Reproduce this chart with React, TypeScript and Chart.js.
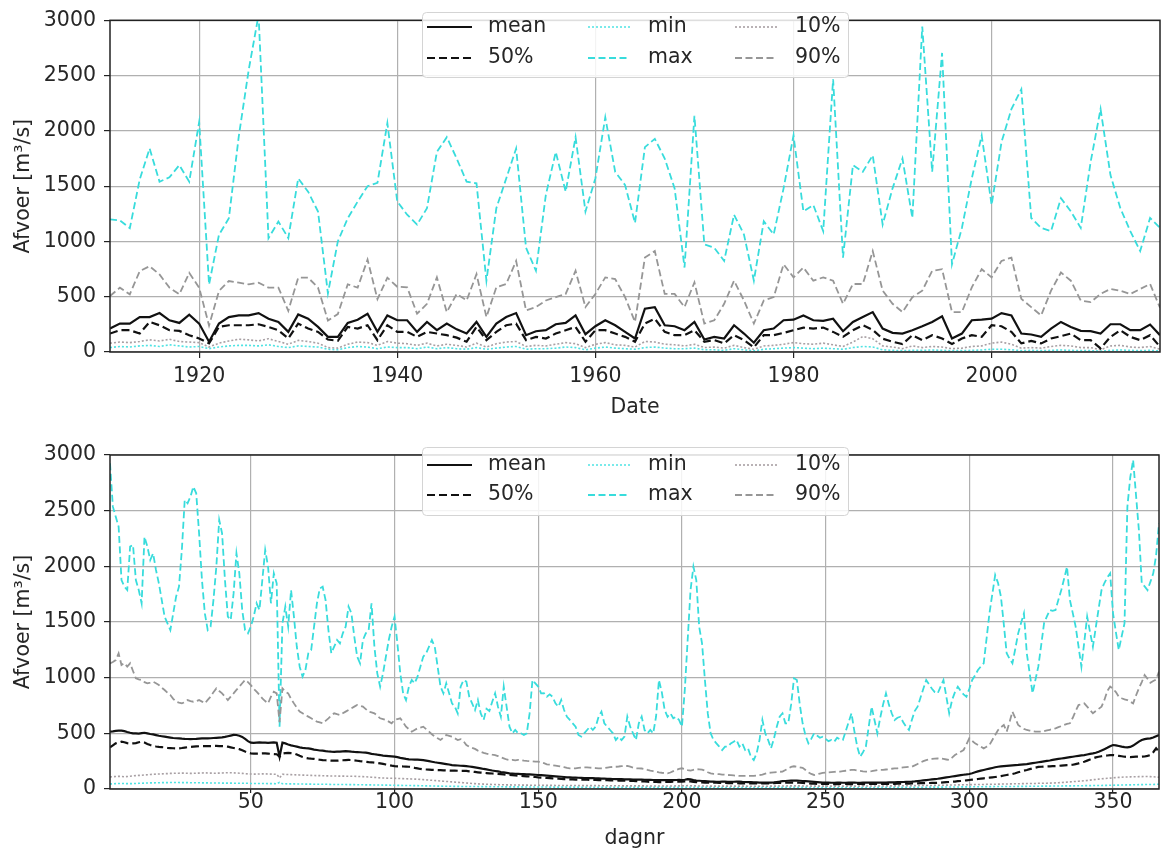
import React, { useEffect, useRef } from 'react';
import { Chart, registerables } from 'chart.js';

Chart.register(...registerables);

// ---------- categories / ticks ----------
const FIRST_YEAR = 1911;
const years: number[] = Array.from({ length: 107 }, (_, i) => FIRST_YEAR + i);
const days: number[] = Array.from({ length: 366 }, (_, i) => i + 1);
const yearTicks = [1920, 1940, 1960, 1980, 2000];
const dayTicks = [50, 100, 150, 200, 250, 300, 350];
const valueTicks = [0, 500, 1000, 1500, 2000, 2500, 3000];
const legendLabels = ['mean', '50%', 'min', 'max', '10%', '90%'];

// ---------- yearly series (1911-2017) ----------
const yearMean = [
  212, 257, 257, 316, 316, 352, 287, 263, 337, 257,
  93, 257, 316, 331, 331, 352, 301, 272, 182, 340,
  301, 227, 137, 137, 263, 292, 346, 182, 331, 287,
  287, 182, 272, 197, 257, 205, 167, 272, 137, 257,
  316, 352, 152, 188, 197, 251, 263, 331, 161, 233,
  287, 242, 182, 122, 391, 406, 242, 233, 197, 272,
  113, 137, 122, 242, 167, 84, 197, 212, 287, 292,
  331, 287, 281, 301, 188, 272, 316, 361, 212, 173,
  167, 197, 233, 272, 322, 122, 167, 287, 292, 301,
  352, 331, 167, 158, 137, 212, 272, 227, 191, 188,
  167, 251, 251, 197, 197, 248, 152,
];
const yearP50 = [
  167, 197, 197, 167, 272, 242, 197, 191, 152, 122,
  78, 227, 242, 242, 242, 251, 227, 197, 122, 257,
  212, 182, 113, 101, 227, 212, 242, 107, 242, 182,
  182, 137, 182, 167, 152, 130, 93, 227, 107, 182,
  242, 257, 107, 137, 122, 167, 197, 227, 93, 197,
  197, 167, 137, 93, 257, 301, 182, 152, 152, 197,
  93, 107, 78, 152, 107, 42, 152, 152, 173, 197,
  221, 212, 221, 182, 137, 197, 242, 200, 120, 93,
  72, 152, 107, 152, 122, 72, 122, 152, 137, 242,
  233, 182, 78, 101, 78, 122, 143, 167, 107, 107,
  33, 137, 197, 137, 107, 152, 48,
];
const yearMin = [
  40, 50, 45, 55, 60, 50, 65, 55, 45, 50,
  30, 45, 55, 60, 60, 55, 65, 50, 40, 55,
  50, 45, 25, 20, 40, 50, 45, 30, 45, 40,
  40, 30, 45, 30, 40, 30, 25, 40, 25, 35,
  45, 50, 25, 30, 30, 35, 45, 40, 20, 35,
  45, 35, 30, 25, 40, 45, 35, 30, 30, 35,
  20, 20, 15, 30, 20, 10, 25, 30, 35, 40,
  35, 30, 35, 30, 25, 40, 50, 45, 20, 15,
  12, 15, 15, 18, 15, 12, 12, 15, 18, 25,
  25, 20, 12, 15, 12, 15, 18, 15, 12, 12,
  8, 15, 18, 15, 12, 15, 10,
];
const yearMax = [
  1200, 1190, 1120, 1560, 1840, 1540, 1580, 1690, 1540, 2080,
  610, 1060, 1210, 1950, 2550, 3050, 1030, 1180, 1030, 1570,
  1450, 1270, 530, 1000, 1210, 1360, 1500, 1530, 2070, 1361,
  1242, 1152, 1300, 1809, 1943, 1750, 1540, 1525, 645, 1300,
  1570, 1840, 943, 735, 1420, 1809, 1450, 1943, 1270, 1570,
  2122, 1630, 1510, 1167, 1853, 1928, 1750, 1480, 764, 2137,
  973, 943, 824, 1242, 1063, 645, 1182, 1063, 1480, 1958,
  1272, 1330, 1093, 2466, 854, 1690, 1630, 1779, 1152, 1480,
  1750, 1212, 2943, 1630, 2705, 794, 1122, 1570, 1958, 1330,
  1898, 2197, 2376, 1212, 1122, 1093, 1391, 1272, 1122, 1720,
  2197, 1600, 1300, 1093, 913, 1212, 1122,
];
const yearP10 = [
  80, 90, 85, 95, 110, 100, 115, 95, 90, 85,
  45, 80, 100, 115, 110, 100, 120, 95, 70, 105,
  95, 80, 40, 35, 70, 90, 85, 60, 95, 80,
  75, 60, 80, 55, 70, 60, 45, 80, 45, 75,
  90, 95, 50, 60, 55, 70, 85, 75, 40, 70,
  85, 65, 60, 45, 95, 90, 70, 65, 55, 70,
  40, 45, 35, 60, 40, 25, 55, 60, 70, 85,
  75, 70, 80, 65, 50, 90, 140, 120, 55, 45,
  30, 55, 40, 50, 45, 30, 35, 50, 55, 80,
  90, 70, 35, 40, 35, 50, 60, 55, 40, 40,
  20, 55, 60, 45, 40, 50, 25,
];
const yearP90 = [
  507, 582, 522, 731, 776, 701, 582, 522, 716, 582,
  239, 552, 642, 627, 612, 627, 582, 582, 373, 672,
  672, 582, 284, 343, 612, 582, 836, 478, 672, 590,
  585, 346, 436, 675, 361, 525, 466, 704, 316, 585,
  615, 824, 376, 406, 466, 496, 525, 734, 406, 525,
  675, 660, 496, 272, 854, 913, 525, 525, 406, 630,
  257, 287, 436, 645, 466, 257, 466, 496, 794, 675,
  764, 645, 675, 645, 436, 615, 615, 913, 555, 436,
  361, 496, 555, 734, 749, 361, 361, 585, 749, 675,
  824, 854, 481, 406, 331, 555, 719, 645, 466, 451,
  525, 570, 555, 525, 570, 615, 400,
];

// ---------- daily series (day 1-366) ----------
const dayMean = [
  515, 518, 522, 524, 524, 520, 512, 505, 500, 500,
  498, 502, 505, 500, 494, 490, 484, 478, 474, 470,
  466, 462, 458, 456, 455, 452, 450, 449, 448, 449,
  450, 452, 454, 455, 455, 456, 458, 460, 462, 464,
  468, 474, 480, 486, 485, 478, 468, 450, 430, 416,
  414, 416, 418, 417, 416, 415, 417, 418, 416, 290,
  416, 410, 400, 392, 386, 380, 374, 370, 367, 365,
  360, 354, 350, 346, 344, 340, 337, 335, 334, 335,
  336, 338, 340, 338, 335, 333, 332, 330, 328, 326,
  322, 316, 312, 308, 305, 300, 298, 296, 293, 290,
  286, 280, 275, 270, 266, 265, 264, 263, 262, 260,
  255, 250, 245, 240, 236, 232, 228, 224, 220, 215,
  213, 211, 209, 208, 206, 202, 198, 194, 190, 185,
  180, 176, 171, 166, 162, 158, 153, 149, 145, 141,
  139, 137, 136, 134, 133, 132, 131, 130, 128, 126,
  124, 122, 120, 118, 116, 114, 112, 110, 108, 105,
  104, 103, 102, 101, 100, 99, 98, 97, 97, 96,
  95, 94, 93, 92, 91, 90, 89, 88, 88, 87,
  86, 86, 85, 85, 84, 84, 83, 82, 82, 81,
  81, 80, 80, 80, 79, 79, 80, 81, 82, 81,
  83, 88, 86, 80, 76, 74, 72, 70, 68, 66,
  66, 65, 65, 66, 66, 65, 64, 65, 66, 66,
  64, 63, 62, 61, 60, 59, 58, 58, 57, 57,
  58, 60, 63, 66, 70, 72, 74, 75, 76, 75,
  74, 72, 70, 68, 66, 64, 62, 60, 58, 57,
  57, 56, 56, 57, 57, 56, 56, 57, 57, 57,
  56, 56, 57, 58, 58, 57, 57, 58, 57, 57,
  58, 59, 60, 60, 61, 62, 63, 64, 65, 66,
  68, 71, 74, 77, 80, 83, 86, 89, 92, 96,
  100, 104, 108, 112, 116, 120, 124, 128, 131, 135,
  142, 150, 158, 165, 171, 177, 183, 189, 195, 200,
  203, 206, 208, 210, 212, 214, 216, 219, 222, 224,
  228, 232, 236, 240, 244, 248, 252, 256, 261, 266,
  270, 274, 278, 282, 286, 290, 294, 298, 302, 305,
  310, 315, 320, 326, 335, 346, 358, 370, 384, 395,
  392, 386, 380, 376, 374, 378, 390, 408, 426, 440,
  448, 452, 455, 462, 474, 485,
];
const dayP50 = [
  374, 392, 410, 418, 425, 420, 412, 408, 410, 412,
  420, 425, 418, 405, 395, 388, 382, 378, 376, 374,
  370, 368, 366, 365, 365, 368, 372, 376, 378, 380,
  382, 384, 386, 386, 386, 385, 386, 387, 386, 386,
  384, 380, 374, 368, 365, 358, 348, 336, 326, 320,
  318, 318, 319, 320, 320, 318, 316, 314, 312, 290,
  318, 322, 324, 322, 320, 310, 298, 288, 280, 275,
  272, 270, 266, 263, 260, 258, 256, 255, 254, 254,
  256, 258, 260, 261, 260, 257, 254, 250, 247, 245,
  242, 240, 237, 234, 230, 225, 220, 215, 210, 206,
  204, 203, 202, 201, 200, 196, 190, 185, 180, 176,
  175, 174, 172, 171, 170, 169, 168, 167, 166, 165,
  165, 164, 163, 163, 162, 159, 156, 153, 150, 147,
  145, 143, 141, 139, 137, 135, 133, 131, 128, 126,
  124, 122, 120, 118, 116, 114, 112, 110, 108, 105,
  103, 101, 99, 97, 95, 93, 92, 90, 89, 87,
  86, 86, 85, 85, 84, 84, 83, 82, 82, 81,
  80, 80, 79, 79, 78, 78, 77, 76, 76, 75,
  74, 73, 72, 71, 70, 69, 68, 66, 64, 63,
  63, 62, 62, 63, 63, 64, 65, 66, 66, 66,
  68, 70, 68, 64, 62, 60, 59, 58, 58, 57,
  56, 56, 55, 55, 54, 53, 53, 52, 52, 51,
  51, 51, 50, 50, 51, 51, 50, 50, 51, 51,
  52, 53, 54, 55, 56, 57, 58, 58, 57, 57,
  56, 54, 52, 50, 48, 47, 46, 46, 45, 45,
  45, 45, 44, 44, 45, 45, 45, 44, 44, 45,
  45, 45, 44, 44, 45, 45, 46, 45, 45, 45,
  45, 46, 46, 46, 47, 47, 48, 48, 49, 50,
  50, 51, 52, 52, 53, 54, 55, 55, 56, 57,
  59, 61, 63, 65, 67, 70, 72, 75, 78, 81,
  84, 87, 90, 93, 96, 99, 102, 105, 108, 111,
  116, 121, 126, 130, 135, 142, 150, 158, 165, 171,
  178, 185, 192, 198, 200, 202, 203, 204, 205, 206,
  208, 210, 212, 214, 215, 218, 224, 230, 238, 245,
  255, 265, 275, 284, 290, 294, 298, 301, 304, 305,
  302, 298, 294, 290, 288, 286, 288, 290, 290, 290,
  292, 298, 305, 330, 365, 335,
];
const dayMin = [
  45, 46, 48, 50, 50, 49, 48, 48, 49, 50,
  51, 52, 53, 54, 55, 55, 56, 56, 57, 57,
  57, 58, 58, 58, 58, 57, 57, 57, 56, 56,
  56, 56, 55, 55, 55, 54, 54, 54, 54, 53,
  53, 53, 53, 52, 52, 52, 51, 51, 51, 50,
  50, 50, 49, 49, 49, 48, 48, 48, 47, 60,
  47, 47, 46, 46, 46, 45, 45, 45, 44, 44,
  44, 43, 43, 43, 42, 42, 42, 41, 41, 41,
  40, 40, 40, 39, 39, 39, 38, 38, 38, 37,
  37, 37, 36, 36, 36, 35, 35, 35, 34, 34,
  33, 33, 32, 32, 31, 31, 30, 30, 29, 29,
  28, 28, 27, 27, 26, 26, 25, 25, 25, 24,
  24, 24, 23, 23, 23, 22, 22, 22, 22, 21,
  21, 21, 21, 20, 20, 20, 20, 20, 19, 19,
  19, 19, 19, 19, 18, 18, 18, 18, 18, 18,
  18, 18, 18, 17, 17, 17, 17, 17, 17, 17,
  17, 17, 17, 17, 16, 16, 16, 16, 16, 16,
  16, 16, 16, 16, 16, 16, 15, 15, 15, 15,
  15, 15, 15, 15, 15, 15, 15, 15, 15, 15,
  15, 15, 15, 15, 15, 15, 15, 15, 15, 15,
  15, 16, 16, 15, 15, 15, 15, 15, 15, 14,
  14, 14, 14, 14, 14, 14, 14, 14, 14, 14,
  14, 14, 14, 14, 14, 14, 14, 14, 14, 14,
  14, 14, 15, 15, 15, 15, 15, 15, 15, 15,
  15, 15, 15, 14, 14, 14, 14, 14, 14, 14,
  14, 14, 14, 14, 14, 14, 14, 14, 14, 14,
  14, 14, 14, 14, 14, 14, 14, 15, 15, 15,
  15, 15, 15, 15, 15, 15, 15, 15, 16, 16,
  16, 16, 16, 16, 16, 17, 17, 17, 17, 17,
  17, 18, 18, 18, 18, 18, 19, 19, 19, 19,
  20, 20, 20, 20, 21, 21, 21, 21, 22, 22,
  22, 22, 23, 23, 23, 23, 24, 24, 24, 24,
  25, 25, 25, 25, 26, 26, 26, 26, 27, 27,
  27, 27, 28, 28, 28, 28, 29, 29, 29, 30,
  30, 30, 31, 31, 32, 32, 33, 33, 34, 34,
  35, 35, 36, 36, 37, 37, 38, 38, 39, 39,
  40, 40, 41, 41, 42, 42,
];
const dayMax = [
  2925, 2536, 2446, 2356, 1877, 1817, 1787, 2177, 2192, 1877,
  1787, 1668, 2266, 2177, 2057, 2117, 1967, 1847, 1698, 1548,
  1488, 1428, 1578, 1728, 1817, 2147, 2596, 2566, 2626, 2716,
  2656, 2296, 1877, 1578, 1428, 1458, 1698, 1997, 2416, 2296,
  1877, 1548, 1518, 1757, 2117, 1937, 1608, 1428, 1398, 1458,
  1548, 1668, 1608, 1877, 2147, 1997, 1668, 1937, 1847, 560,
  1488, 1638, 1458, 1787, 1548, 1278, 1099, 1009, 1069, 1219,
  1248, 1458, 1668, 1802, 1817, 1698, 1428, 1219, 1278, 1338,
  1308, 1398, 1458, 1638, 1578, 1368, 1189, 1129, 1338, 1398,
  1428, 1668, 1278, 1039, 919, 1039, 1189, 1338, 1458, 1548,
  1308, 1039, 859, 799, 919, 979, 949, 1009, 1099, 1189,
  1219, 1278, 1338, 1278, 1099, 919, 859, 949, 859, 769,
  739, 679, 919, 979, 964, 829, 769, 709, 799, 679,
  620, 720, 700, 784, 859, 739, 649, 919, 739, 560,
  500, 530, 500, 500, 485, 500, 679, 979, 949, 920,
  859, 860, 829, 850, 829, 769, 739, 799, 709, 649,
  620, 590, 560, 485, 470, 500, 530, 560, 530, 560,
  649, 695, 590, 560, 530, 500, 440, 470, 440, 470,
  650, 560, 500, 440, 590, 650, 530, 500, 530, 500,
  649, 979, 870, 709, 649, 679, 635, 649, 620, 560,
  889, 1338, 1787, 1997, 1877, 1458, 1308, 979, 679, 500,
  440, 410, 380, 350, 380, 380, 410, 425, 440, 380,
  410, 350, 365, 290, 260, 320, 440, 620, 500, 440,
  365, 450, 560, 649, 680, 590, 590, 760, 994, 979,
  760, 590, 480, 410, 450, 500, 480, 460, 470, 450,
  430, 440, 425, 460, 445, 440, 520, 600, 680, 520,
  380, 290, 330, 380, 560, 739, 620, 500, 640, 760,
  859, 760, 680, 620, 640, 649, 600, 560, 530, 620,
  700, 739, 820, 900, 979, 940, 900, 870, 859, 920,
  979, 830, 680, 800, 870, 919, 880, 850, 829, 900,
  979, 1020, 1069, 1100, 1129, 1350, 1578, 1750, 1922, 1850,
  1727, 1480, 1219, 1170, 1129, 1260, 1398, 1490, 1578, 1219,
  1040, 859, 980, 1099, 1290, 1488, 1550, 1608, 1600, 1608,
  1700, 1787, 1890, 1997, 1698, 1580, 1458, 1280, 1099, 1320,
  1548, 1410, 1278, 1450, 1620, 1787, 1850, 1900, 1937, 1578,
  1410, 1248, 1370, 1488, 2536, 2800, 2955, 2640, 2326, 1847,
  1820, 1787, 1860, 1937, 2100, 2386,
];
const dayP10 = [
  108, 110, 112, 114, 112, 110, 112, 115, 118, 120,
  122, 124, 126, 128, 130, 132, 134, 135, 136, 138,
  138, 140, 141, 142, 142, 143, 142, 141, 140, 141,
  142, 143, 144, 145, 144, 143, 142, 142, 143, 144,
  145, 146, 146, 145, 144, 142, 140, 138, 136, 135,
  134, 134, 135, 136, 136, 135, 134, 133, 132, 100,
  132, 131, 130, 129, 128, 127, 126, 125, 124, 123,
  122, 121, 120, 120, 119, 118, 118, 117, 117, 116,
  116, 116, 115, 115, 114, 114, 113, 112, 111, 110,
  108, 106, 104, 102, 100, 99, 98, 97, 96, 96,
  95, 94, 93, 92, 91, 90, 89, 88, 86, 84,
  82, 80, 78, 76, 74, 72, 70, 68, 66, 64,
  62, 60, 58, 56, 54, 52, 50, 48, 46, 45,
  44, 43, 42, 41, 40, 39, 38, 38, 37, 37,
  36, 36, 36, 35, 35, 35, 34, 34, 34, 34,
  34, 33, 33, 33, 33, 32, 32, 32, 32, 31,
  31, 31, 31, 31, 30, 30, 30, 30, 30, 30,
  30, 29, 29, 29, 29, 29, 29, 29, 28, 28,
  28, 28, 28, 28, 28, 28, 28, 27, 27, 27,
  27, 27, 27, 27, 27, 27, 27, 28, 28, 28,
  29, 30, 29, 28, 28, 27, 27, 27, 27, 26,
  26, 26, 26, 26, 26, 26, 26, 26, 26, 26,
  26, 26, 25, 25, 25, 25, 25, 25, 25, 25,
  26, 26, 26, 27, 27, 27, 28, 28, 28, 28,
  28, 27, 27, 27, 26, 26, 26, 26, 26, 26,
  26, 26, 26, 26, 26, 26, 26, 26, 26, 26,
  26, 26, 27, 27, 27, 27, 27, 27, 27, 27,
  28, 28, 28, 28, 28, 29, 29, 29, 29, 30,
  30, 30, 31, 31, 31, 32, 32, 33, 33, 34,
  34, 35, 35, 36, 36, 37, 37, 38, 38, 39,
  39, 40, 40, 41, 41, 42, 42, 43, 43, 44,
  44, 45, 45, 46, 46, 47, 47, 48, 48, 49,
  49, 50, 50, 51, 51, 52, 52, 53, 54, 55,
  56, 58, 60, 62, 64, 66, 68, 70, 72, 74,
  77, 80, 83, 86, 89, 92, 94, 96, 98, 100,
  102, 104, 106, 108, 108, 109, 110, 110, 111, 111,
  112, 112, 111, 110, 108, 106,
];
const dayP90 = [
  1128, 1140, 1158, 1218, 1114, 1130, 1099, 1129, 1060, 994,
  985, 979, 960, 949, 955, 964, 950, 934, 910, 889,
  865, 844, 810, 784, 775, 769, 780, 799, 790, 784,
  790, 799, 785, 769, 800, 829, 870, 904, 880, 859,
  830, 799, 830, 859, 890, 919, 950, 979, 960, 934,
  900, 874, 845, 814, 790, 769, 829, 874, 859, 600,
  904, 874, 859, 810, 769, 730, 695, 680, 665, 650,
  635, 620, 605, 598, 590, 612, 635, 660, 680, 672,
  665, 680, 695, 710, 725, 740, 754, 748, 740, 718,
  695, 688, 680, 658, 635, 628, 620, 605, 590, 620,
  628, 635, 598, 560, 538, 515, 530, 545, 552, 560,
  538, 515, 492, 470, 455, 440, 462, 485, 478, 470,
  455, 440, 448, 430, 395, 380, 370, 360, 345, 335,
  325, 318, 312, 308, 305, 296, 285, 275, 265, 260,
  262, 258, 262, 260, 255, 252, 250, 248, 245, 245,
  240, 232, 222, 218, 214, 210, 206, 200, 196, 190,
  186, 186, 186, 190, 192, 195, 195, 192, 190, 188,
  186, 186, 188, 192, 196, 198, 200, 202, 205, 206,
  207, 200, 192, 186, 185, 184, 180, 172, 165, 160,
  156, 150, 146, 143, 141, 148, 160, 172, 180, 186,
  180, 170, 165, 172, 178, 177, 174, 165, 150, 140,
  136, 135, 133, 130, 128, 126, 124, 122, 120, 118,
  117, 117, 118, 117, 117, 120, 124, 130, 138, 145,
  147, 150, 152, 155, 156, 170, 185, 198, 204, 200,
  195, 190, 171, 150, 135, 126, 132, 138, 144, 147,
  150, 152, 154, 156, 156, 160, 164, 168, 171, 171,
  166, 162, 158, 156, 156, 160, 165, 170, 171, 171,
  175, 178, 182, 185, 186, 190, 194, 197, 200, 200,
  212, 225, 238, 250, 260, 265, 270, 272, 274, 275,
  270, 265, 260, 282, 305, 320, 335, 350, 400, 455,
  432, 410, 395, 380, 365, 380, 395, 440, 485, 530,
  555, 575, 515, 600, 695, 635, 575, 555, 540, 530,
  525, 520, 515, 515, 515, 520, 526, 532, 538, 545,
  555, 565, 575, 585, 590, 640, 700, 754, 762, 769,
  740, 710, 680, 700, 720, 740, 800, 880, 920, 900,
  870, 829, 815, 805, 799, 784, 769, 840, 904, 960,
  1024, 990, 954, 970, 984, 1054,
];

// ---------- styles ----------
const FONT = 'DejaVu Sans';
const FONT_SIZE = 20.5;
const TEXT_COLOR = '#262626';
const GRID_COLOR = '#b0b0b0';
const FRAME_COLOR = '#222222';

type StyleKey = 'mean' | 'p50' | 'min' | 'max' | 'p10' | 'p90';
const SERIES_STYLE: Record<StyleKey, { color: string; width: number; dash: number[] }> = {
  mean: { color: '#111111', width: 2.2, dash: [] },
  p50: { color: '#111111', width: 2.2, dash: [8, 4] },
  min: { color: '#4fe3e3', width: 1.6, dash: [2, 2] },
  max: { color: '#38dcdc', width: 1.8, dash: [7, 3.5] },
  p10: { color: '#a8a0a4', width: 1.6, dash: [2, 2] },
  p90: { color: '#969696', width: 1.8, dash: [7, 3.5] },
};
const LEGEND_KEYS: StyleKey[] = ['mean', 'p50', 'min', 'max', 'p10', 'p90'];
const DRAW_ORDER: StyleKey[] = ['mean', 'p50', 'p90', 'p10', 'max', 'min']; // first = on top
const LEGEND_COLS = [
  { h0: 427, h1: 472, tx: 488 },
  { h0: 588, h1: 630, tx: 648 },
  { h0: 735, h1: 777, tx: 795 },
];

type LegendBox = { x: number; y: number; w: number; h: number; row1: number; row2: number };

function makeLegendPlugin(box: LegendBox) {
  return {
    id: 'mplLegend',
    afterDraw(chart: any) {
      const ctx = chart.ctx as CanvasRenderingContext2D;
      ctx.save();
      ctx.beginPath();
      (ctx as any).roundRect(box.x + 0.5, box.y + 0.5, box.w, box.h, 4);
      ctx.fillStyle = 'rgba(255,255,255,0.85)';
      ctx.fill();
      ctx.strokeStyle = '#d4d4d4';
      ctx.lineWidth = 1;
      ctx.stroke();
      LEGEND_KEYS.forEach((key, i) => {
        const col = LEGEND_COLS[Math.floor(i / 2)];
        const y = i % 2 === 0 ? box.row1 : box.row2;
        const st = SERIES_STYLE[key];
        ctx.beginPath();
        ctx.setLineDash(st.dash);
        ctx.strokeStyle = st.color;
        ctx.lineWidth = st.width;
        ctx.moveTo(col.h0, y);
        ctx.lineTo(col.h1, y);
        ctx.stroke();
        ctx.setLineDash([]);
        ctx.fillStyle = TEXT_COLOR;
        ctx.font = `${FONT_SIZE}px "${FONT}"`;
        ctx.textBaseline = 'middle';
        ctx.textAlign = 'left';
        ctx.fillText(legendLabels[i], col.tx, y);
      });
      ctx.restore();
    },
  };
}

const framePlugin = {
  id: 'frame',
  afterDatasetsDraw(chart: any) {
    const { ctx, chartArea } = chart;
    ctx.save();
    ctx.strokeStyle = FRAME_COLOR;
    ctx.lineWidth = 1.5;
    ctx.strokeRect(chartArea.left, chartArea.top, chartArea.right - chartArea.left, chartArea.bottom - chartArea.top);
    ctx.restore();
  },
};

type Cfg = {
  xs: number[];
  series: Record<StyleKey, number[]>;
  xMin: number;
  xMax: number;
  xTicks: number[];
  xTitle: string;
  padding: { left: number; right: number; top: number; bottom: number };
  xAxisHeight: number;
  xTickLength: number;
  xTickPadding: number;
  legend: LegendBox;
};

function buildChart(canvas: HTMLCanvasElement, cfg: Cfg) {
  const font = { family: FONT, size: FONT_SIZE };
  return new Chart(canvas, {
    type: 'line',
    data: {
      datasets: DRAW_ORDER.map((key) => {
        const st = SERIES_STYLE[key];
        return {
          label: key,
          data: cfg.xs.map((x, i) => ({ x, y: cfg.series[key][i] })),
          borderColor: st.color,
          borderWidth: st.width,
          borderDash: st.dash,
          pointRadius: 0,
          tension: 0,
          fill: false,
        };
      }),
    },
    options: {
      animation: false,
      responsive: false,
      devicePixelRatio: 1,
      events: [],
      layout: { padding: cfg.padding },
      plugins: { legend: { display: false }, tooltip: { enabled: false } },
      scales: {
        x: {
          type: 'linear',
          min: cfg.xMin,
          max: cfg.xMax,
          afterBuildTicks: (s: any) => {
            s.ticks = cfg.xTicks.map((v) => ({ value: v }));
          },
          afterFit: (s: any) => {
            s.height = cfg.xAxisHeight;
          },
          grid: { color: GRID_COLOR, lineWidth: 1.2, drawTicks: true, tickLength: cfg.xTickLength, tickColor: FRAME_COLOR, tickWidth: 1.2 },
          border: { display: false },
          ticks: { font, color: TEXT_COLOR, padding: cfg.xTickPadding, maxRotation: 0, autoSkip: false, callback: (v: any) => String(v) },
          title: { display: true, text: cfg.xTitle, font, color: TEXT_COLOR, padding: 0 },
        },
        y: {
          type: 'linear',
          min: 0,
          max: 3000,
          afterBuildTicks: (s: any) => {
            s.ticks = valueTicks.map((v) => ({ value: v }));
          },
          afterFit: (s: any) => {
            s.width = 110 - cfg.padding.left;
          },
          grid: { color: GRID_COLOR, lineWidth: 1.2, drawTicks: true, tickLength: 6, tickColor: FRAME_COLOR, tickWidth: 1.2 },
          border: { display: false },
          ticks: { font, color: TEXT_COLOR, padding: 8, autoSkip: false, callback: (v: any) => String(v) },
          title: { display: true, text: 'Afvoer [m³/s]', font, color: TEXT_COLOR, padding: 0 },
        },
      },
    } as any,
    plugins: [framePlugin, makeLegendPlugin(cfg.legend)],
  });
}

export default function App() {
  const topRef = useRef<HTMLCanvasElement>(null);
  const botRef = useRef<HTMLCanvasElement>(null);

  useEffect(() => {
    const top = buildChart(topRef.current!, {
      xs: years,
      series: { mean: yearMean, p50: yearP50, min: yearMin, max: yearMax, p10: yearP10, p90: yearP90 },
      xMin: 1911,
      xMax: 2017,
      xTicks: yearTicks,
      xTitle: 'Date',
      padding: { left: 11, right: 8, top: 17, bottom: 10 },
      xAxisHeight: 68,
      xTickLength: 6,
      xTickPadding: 6,
      legend: { x: 422, y: 12, w: 426, h: 65, row1: 27, row2: 58 },
    });
    const bot = buildChart(botRef.current!, {
      xs: days,
      series: { mean: dayMean, p50: dayP50, min: dayMin, max: dayMax, p10: dayP10, p90: dayP90 },
      xMin: 1,
      xMax: 366,
      xTicks: dayTicks,
      xTitle: 'dagnr',
      padding: { left: 11, right: 9, top: 25, bottom: 2 },
      xAxisHeight: 62,
      xTickLength: 4,
      xTickPadding: -3,
      legend: { x: 422, y: 17, w: 426, h: 68, row1: 35, row2: 65 },
    });
    return () => {
      top.destroy();
      bot.destroy();
    };
  }, []);

  return (
    <div style={{ position: 'absolute', left: 0, top: 0, width: 1168, height: 853, background: '#ffffff' }}>
      <canvas ref={topRef} width={1168} height={430} style={{ display: 'block' }} />
      <canvas ref={botRef} width={1168} height={423} style={{ display: 'block' }} />
    </div>
  );
}
